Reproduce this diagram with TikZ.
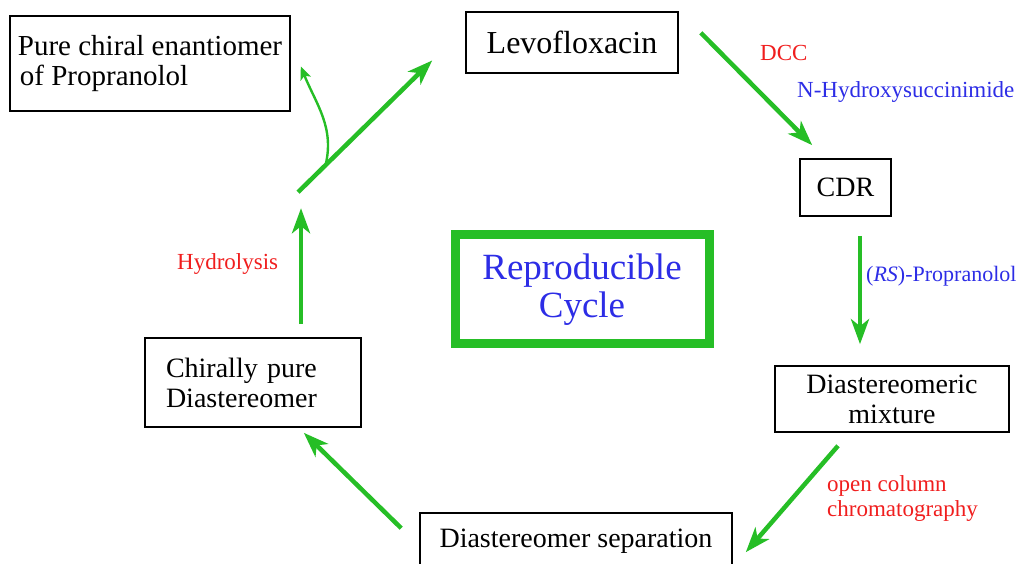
\documentclass[tikz,border=0pt]{standalone}
\usepackage{fontspec}
\setmainfont{Liberation Serif}
\usepackage{tikz}
\usetikzlibrary{arrows.meta, positioning}
\definecolor{cyclegreen}{RGB}{38, 190, 38}
\definecolor{labelred}{RGB}{240, 30, 30}
\definecolor{labelblue}{RGB}{45, 45, 230}

\begin{document}
\begin{tikzpicture}[x=1pt,y=1pt,
	box/.style={draw,line width=1.6pt,inner sep=0pt,font=\fontsize{28}{30}\selectfont},
	flow/.style={-{Stealth[length=25pt,width=18pt,inset=7pt]},cyclegreen,line width=4.5pt},
	redlabel/.style={labelred,inner sep=0pt,font=\fontsize{23}{25}\selectfont},
	bluelabel/.style={labelblue,inner sep=0pt,font=\fontsize{23}{25}\selectfont}]
	\useasboundingbox (0,0) rectangle (1026,564);

	% boxes
	\node[box,minimum width=280,minimum height=95,align=left,
		font=\fontsize{29}{30}\selectfont] (pure) at (150,500.5)
		{Pure chiral enantiomer\\\hspace{2pt}of Propranolol};
	\node[box,minimum width=212,minimum height=61,font=\fontsize{32}{34}\selectfont] (levo) at (572,521.5) {Levofloxacin};
	\node[box,minimum width=91,minimum height=57] (cdr) at (845.5,376.5) {CDR};
	\node[box,minimum width=234,minimum height=66,align=center] (mix) at (892,165) {Diastereomeric\\mixture};
	\node[box,minimum width=312,minimum height=57] (sep) at (576,22.5) {Diastereomer separation};
	\node[box,minimum width=216,minimum height=89,text width=174,inner xsep=21pt,align=left] (chir) at (253,181.5)
		{Chirally pure\\Diastereomer};
	\node[draw=cyclegreen,line width=9pt,minimum width=254,minimum height=109,align=center,text=labelblue,
		font=\fontsize{37}{38}\selectfont] (cycle) at (582,274.5) {Reproducible\\Cycle};

	% reagents and steps
	\node[redlabel,anchor=base west] (dcc) at (760,503) {DCC};
	\node[bluelabel,anchor=base west] (nhs) at (797,466) {N-Hydroxysuccinimide};
	\node[bluelabel,anchor=base west,font=\fontsize{22}{24}\selectfont] (rsprop) at (866,282) {(\textit{RS})-Propranolol};
	\node[redlabel,anchor=west,align=left] (occ) at (827,65) {open column\\chromatography};
	\node[redlabel,anchor=base west] (hydro) at (177,294) {Hydrolysis};

	% arrows
	\draw[flow] ([xshift=22pt,yshift=41pt]levo.south east) -- ([xshift=13pt,yshift=13pt]cdr.north west);
	\draw[flow] ([xshift=14.5pt,yshift=-19pt]cdr.south) -- ([xshift=-32pt,yshift=21pt]mix.north);
	\draw[flow] ([xshift=-54pt,yshift=-13pt]mix.south) -- ([xshift=13pt,yshift=-40pt]sep.north east);
	\draw[flow] ([xshift=-18pt,yshift=-16pt]sep.north west) -- ([xshift=-58pt,yshift=-5pt]chir.south east);

	\coordinate (fork) at ([xshift=45pt,yshift=145pt]chir.north);
	\coordinate (branch) at ([xshift=27pt,yshift=25pt]fork);
	\draw[flow] ([xshift=48pt,yshift=13pt]chir.north) -- ([xshift=3pt,yshift=-16pt]fork);
	\draw[flow] (fork) -- ([xshift=-33pt,yshift=-18pt]levo.west);
	\draw[-{Stealth[length=13pt,width=11pt,inset=3pt]},cyclegreen,line width=2.4pt]
		(branch) to[out=75,in=-68] ([xshift=10pt,yshift=-3pt]pure.east);
\end{tikzpicture}
\end{document}
